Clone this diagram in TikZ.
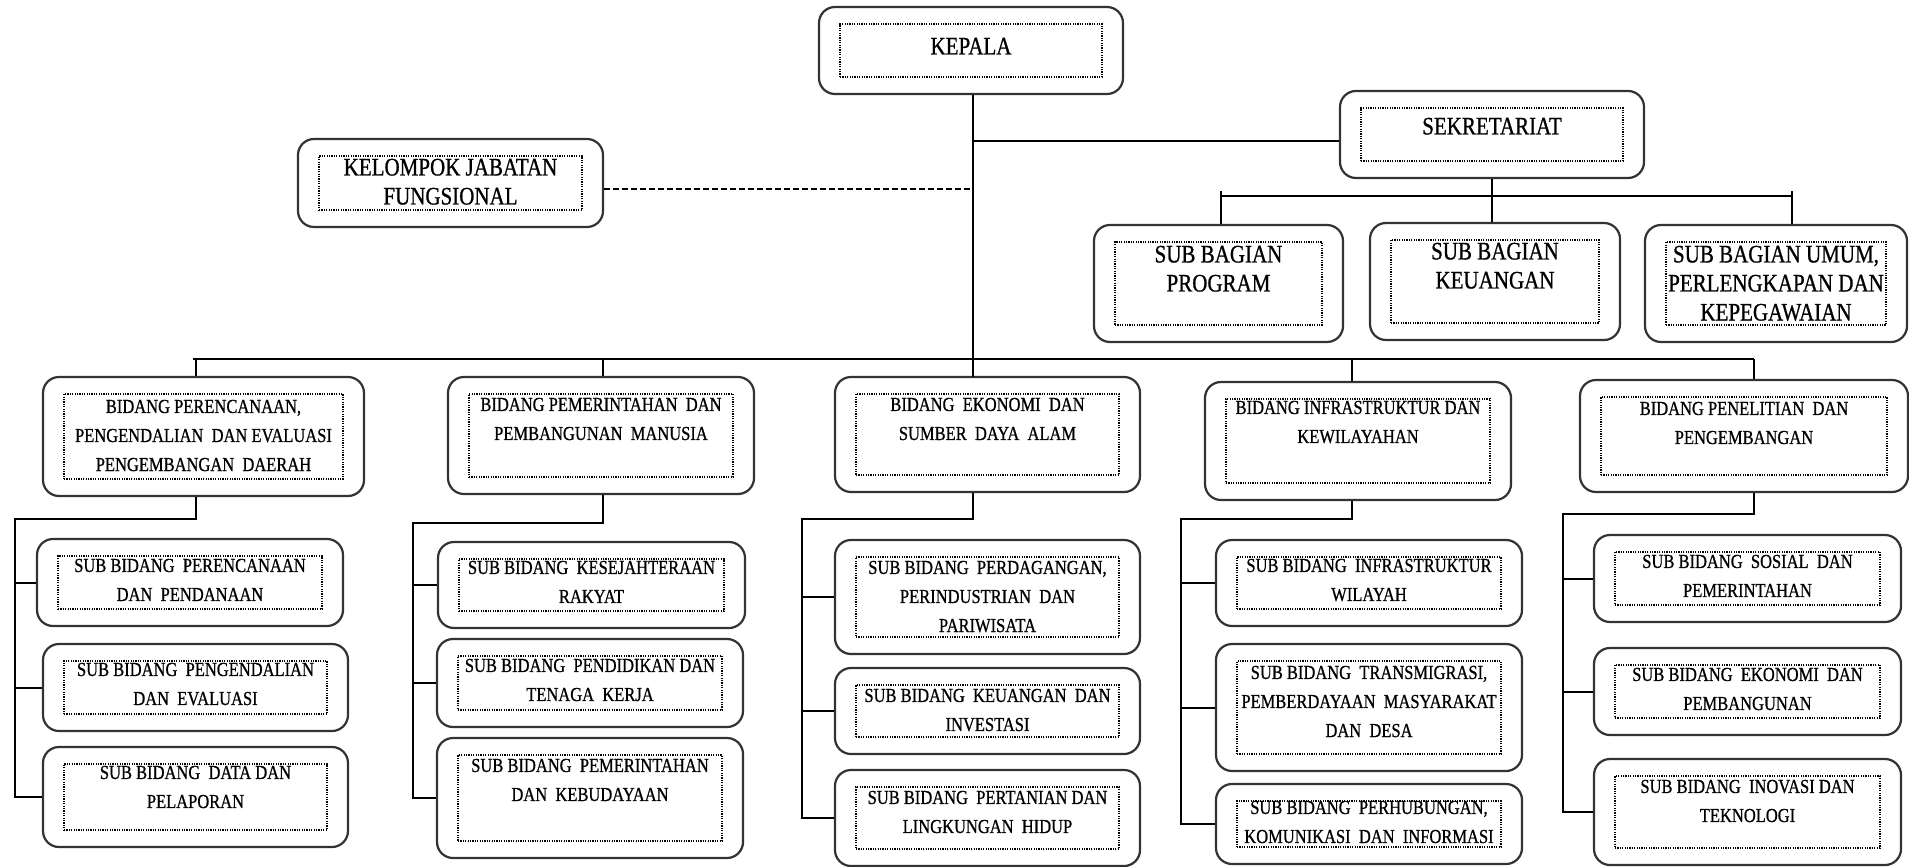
\documentclass[tikz,border=0pt]{standalone}
\usepackage{fontspec}
\setmainfont{Liberation Serif}[FakeBold=0.9]
\usepackage{graphicx}
\tikzset{
  outerbox/.style={rectangle, draw=black!80, line width=2.2pt, rounded corners=16pt, inner sep=0pt},
  innerbox/.style={rectangle, draw=black, line width=1.1pt, dash pattern=on 1.2pt off 1.2pt, inner sep=0pt},
  txt/.style={anchor=base, inner sep=0pt},
  link/.style={draw=black, line width=2pt},
  dlink/.style={draw=black, line width=2pt, dash pattern=on 6pt off 3pt},
}
\newcommand{\smt}[1]{\scalebox{1}[1.2]{\fontsize{16.5}{24.2}\selectfont\begin{tabular}[t]{@{}c@{}}#1\end{tabular}}}
\newcommand{\lgt}[1]{\scalebox{1}[1.2]{\fontsize{21}{24.2}\selectfont\begin{tabular}[t]{@{}c@{}}#1\end{tabular}}}
\newcommand{\obox}[7]{%
  \node[outerbox, minimum width={(#4)-(#2)}, minimum height={(#5)-(#3)}] (#1) at ({((#2)+(#4))/2},{((#3)+(#5))/2}) {};
  \node[innerbox, minimum width={(#4)-(#2)-42}, minimum height={(#5)-(#3)-34}] (#1-in) at (#1.center) {};
  \node[txt] (#1-t) at ([yshift=-#6pt]#1-in.north) {#7};
}
\begin{document}
\begin{tikzpicture}[x=1pt,y=-1pt]
\useasboundingbox (0,0) rectangle (1909,867);

% top level
\obox{kepala}{819}{7}{1123}{94}{31}{\lgt{KEPALA}}
\obox{sekretariat}{1340}{91}{1644}{178}{27}{\lgt{SEKRETARIAT}}
\obox{kelompok}{298}{139}{603}{227}{20}{\lgt{KELOMPOK JABATAN\\FUNGSIONAL}}
\obox{sbprog}{1094}{225}{1343}{342}{21}{\lgt{SUB BAGIAN\\PROGRAM}}
\obox{sbkeu}{1370}{223}{1620}{340}{20}{\lgt{SUB BAGIAN\\KEUANGAN}}
\obox{sbumum}{1645}{225}{1907}{342}{21}{\lgt{SUB BAGIAN UMUM,\\PERLENGKAPAN DAN\\KEPEGAWAIAN}}

% column 1
\obox{b1}{43}{377}{364}{496}{19.5}{\smt{BIDANG PERENCANAAN,\\PENGENDALIAN\ \ DAN EVALUASI\\PENGEMBANGAN\ \ DAERAH}}
\obox{s11}{37}{539}{343}{626}{16.5}{\smt{SUB BIDANG\ \ PERENCANAAN\\DAN\ \ PENDANAAN}}
\obox{s12}{43}{644}{348}{731}{15.5}{\smt{SUB BIDANG\ \ PENGENDALIAN\\DAN\ \ EVALUASI}}
\obox{s13}{43}{747}{348}{847}{15.5}{\smt{SUB BIDANG\ \ DATA DAN\\PELAPORAN}}

% column 2
\obox{b2}{448}{377}{754}{494}{17.5}{\smt{BIDANG PEMERINTAHAN\ \ DAN\\PEMBANGUNAN\ \ MANUSIA}}
\obox{s21}{438}{542}{745}{628}{15.5}{\smt{SUB BIDANG\ \ KESEJAHTERAAN\\RAKYAT}}
\obox{s22}{437}{639}{743}{727}{16.5}{\smt{SUB BIDANG\ \ PENDIDIKAN DAN\\TENAGA\ \ KERJA}}
\obox{s23}{437}{738}{743}{858}{17.5}{\smt{SUB BIDANG\ \ PEMERINTAHAN\\DAN\ \ KEBUDAYAAN}}

% column 3
\obox{b3}{835}{377}{1140}{492}{17.5}{\smt{BIDANG\ \ EKONOMI\ \ DAN\\SUMBER\ \ DAYA\ \ ALAM}}
\obox{s31}{835}{540}{1140}{654}{17.5}{\smt{SUB BIDANG\ \ PERDAGANGAN,\\PERINDUSTRIAN\ \ DAN\\PARIWISATA}}
\obox{s32}{835}{668}{1140}{754}{17.5}{\smt{SUB BIDANG\ \ KEUANGAN\ \ DAN\\INVESTASI}}
\obox{s33}{835}{770}{1140}{866}{17.5}{\smt{SUB BIDANG\ \ PERTANIAN DAN\\LINGKUNGAN\ \ HIDUP}}

% column 4
\obox{b4}{1205}{382}{1511}{500}{15.5}{\smt{BIDANG INFRASTRUKTUR DAN\\KEWILAYAHAN}}
\obox{s41}{1216}{540}{1522}{626}{15.5}{\smt{SUB BIDANG\ \ INFRASTRUKTUR\\WILAYAH}}
\obox{s42}{1216}{644}{1522}{771}{18.5}{\smt{SUB BIDANG\ \ TRANSMIGRASI,\\PEMBERDAYAAN\ \ MASYARAKAT\\DAN\ \ DESA}}
\obox{s43}{1216}{784}{1522}{864}{13.5}{\smt{SUB BIDANG\ \ PERHUBUNGAN,\\KOMUNIKASI\ \ DAN\ \ INFORMASI}}

% column 5
\obox{b5}{1580}{380}{1908}{492}{18.5}{\smt{BIDANG PENELITIAN\ \ DAN\\PENGEMBANGAN}}
\obox{s51}{1594}{535}{1901}{622}{16.5}{\smt{SUB BIDANG\ \ SOSIAL\ \ DAN\\PEMERINTAHAN}}
\obox{s52}{1594}{648}{1901}{735}{16.5}{\smt{SUB BIDANG\ \ EKONOMI\ \ DAN\\PEMBANGUNAN}}
\obox{s53}{1594}{759}{1901}{865}{17.5}{\smt{SUB BIDANG\ \ INOVASI DAN\\TEKNOLOGI}}

% junction coordinates
\coordinate (tb) at (973,377);
\coordinate (mbL) at (193,359);
\coordinate (sbus) at (1221,196);
\coordinate (sbL) at (1221,191);
\coordinate (sbR) at (1792,191);
\coordinate (d1) at (196,519); \coordinate (v1) at (15,519);
\coordinate (d2) at (603,523); \coordinate (v2) at (413,523);
\coordinate (d3) at (973,519); \coordinate (v3) at (802,519);
\coordinate (d4) at (1352,519); \coordinate (v4) at (1181,519);
\coordinate (d5) at (1754,514); \coordinate (v5) at (1563,514);

% trunk and top links
\draw[link] (kepala.south -| tb) -- (tb);
\draw[link] ([yshift=-6.5pt]sekretariat.west) -- ([yshift=-6.5pt]sekretariat.west -| tb);
\draw[dlink] ([yshift=-6pt]kelompok.east) -- ([yshift=-6pt]kelompok.east -| tb);

% secretariat sub-bus
\draw[link] (sekretariat.south) -- (sekretariat.south |- sbkeu.north);
\draw[link] (sbL |- sbus) -- (sbR |- sbus);
\draw[link] (sbL) -- (sbL |- sbprog.north);
\draw[link] (sbR) -- (sbR |- sbumum.north);

% main bus
\draw[link] (mbL) -- (mbL -| d5);
\draw[link] (mbL -| d1) -- (d1 |- b1.north);
\draw[link] (mbL -| d2) -- (d2 |- b2.north);
\draw[link] (mbL -| d4) -- (d4 |- b4.north);
\draw[link] (mbL -| d5) -- (d5 |- b5.north);

% column sub-trees
\draw[link] (d1 |- b1.south) -- (d1) -- (v1) -- (v1 |- s13.west) -- (s13.west);
\draw[link] (v1 |- s11.west) -- (s11.west);
\draw[link] (v1 |- s12.west) -- (s12.west);

\draw[link] (d2 |- b2.south) -- (d2) -- (v2) -- (v2 |- s23.west) -- (s23.west);
\draw[link] (v2 |- s21.west) -- (s21.west);
\draw[link] (v2 |- s22.west) -- (s22.west);

\draw[link] (d3 |- b3.south) -- (d3) -- (v3) -- (v3 |- s33.west) -- (s33.west);
\draw[link] (v3 |- s31.west) -- (s31.west);
\draw[link] (v3 |- s32.west) -- (s32.west);

\draw[link] (d4 |- b4.south) -- (d4) -- (v4) -- (v4 |- s43.west) -- (s43.west);
\draw[link] (v4 |- s41.west) -- (s41.west);
\draw[link] (v4 |- s42.west) -- (s42.west);

\draw[link] (d5 |- b5.south) -- (d5) -- (v5) -- (v5 |- s53.west) -- (s53.west);
\draw[link] (v5 |- s51.west) -- (s51.west);
\draw[link] (v5 |- s52.west) -- (s52.west);
\end{tikzpicture}
\end{document}
